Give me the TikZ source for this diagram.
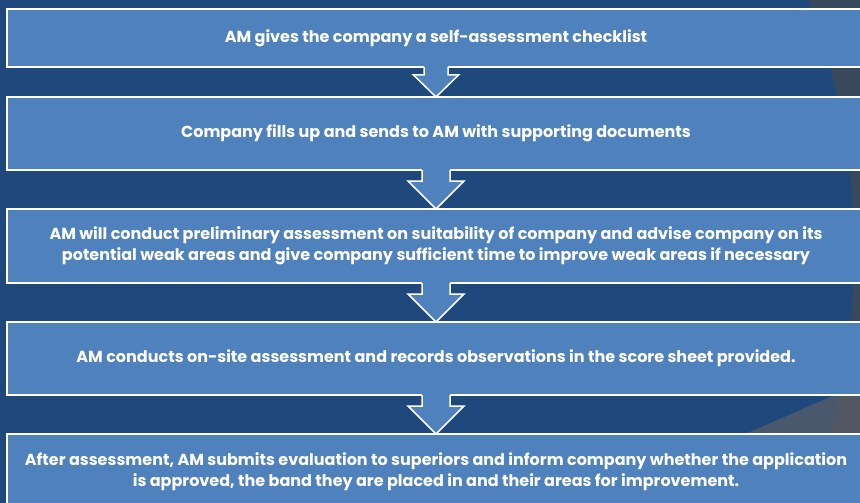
\documentclass[tikz,border=0pt]{standalone}
\usepackage{fontspec}
\setmainfont{Poppins}
\usetikzlibrary{calc}
\definecolor{bgblue}{RGB}{31,72,124}
\definecolor{bggray}{RGB}{58,72,92}
\definecolor{bandgray}{RGB}{92,95,104}
\definecolor{boxblue}{RGB}{79,129,189}
\tikzset{
  flowbox/.style={draw=white, line width=1.5pt, fill=boxblue, inner sep=0pt, outer sep=0pt,
    minimum width=858pt, align=center, text=white,
    font=\fontsize{16}{21}\selectfont\bfseries},
  arrowfill/.style={fill=boxblue},
  arrowline/.style={draw=white, line width=1.5pt, line join=miter}
}
\newcommand{\flowarr}[5]{%
  % #1 from, #2 to, #3 shaft half width, #4 head half width, #5 head start offset
  \fill[arrowfill] ($(#1.south)+(-#3,-2)$) -- ($(#1.south)+(-#3,#5)$) -- ($(#1.south)+(-#4,#5)$)
     -- (#2.north) -- ($(#1.south)+(#4,#5)$) -- ($(#1.south)+(#3,#5)$) -- ($(#1.south)+(#3,-2)$) -- cycle;
  \draw[arrowline] ($(#1.south)+(-#3,0)$) -- ($(#1.south)+(-#3,#5)$) -- ($(#1.south)+(-#4,#5)$)
     -- (#2.north) -- ($(#1.south)+(#4,#5)$) -- ($(#1.south)+(#3,#5)$) -- ($(#1.south)+(#3,0)$);
}
\begin{document}
\begin{tikzpicture}[x=1pt,y=-1pt]
\useasboundingbox (0,0) rectangle (860,503);
\clip (0,0) rectangle (860,503);
% background
\fill[bggray] (0,0) rectangle (860,503);
\fill[bgblue] (152,250) circle[radius=702pt];
\fill[bandgray, opacity=0.7] (587,503) -- (860,384) -- (860,503) -- cycle;
% boxes
\node[flowbox, minimum height=58pt] (b1) at (436,38)
  {AM gives the company a self-assessment checklist};
\node[flowbox, minimum height=73pt] (b2) at (436,133.5)
  {Company fills up and sends to AM with supporting documents};
\node[flowbox, minimum height=74pt] (b3) at (436,246)
  {AM will conduct preliminary assessment on suitability of company and advise company on its\\
   potential weak areas and give company sufficient time to improve weak areas if necessary};
\node[flowbox, minimum height=73pt] (b4) at (436,358.5)
  {AM conducts on-site assessment and records observations in the score sheet provided.};
\node[flowbox, minimum height=76pt] (b5) at (436,472)
  {After assessment, AM submits evaluation to superiors and inform company whether the application\\
   is approved, the band they are placed in and their areas for improvement.};
% arrows
\flowarr{b1}{b2}{12}{22.5}{8}
\flowarr{b2}{b3}{14}{28}{11}
\flowarr{b3}{b4}{14}{28}{11}
\flowarr{b4}{b5}{14}{28}{11}
\end{tikzpicture}
\end{document}
